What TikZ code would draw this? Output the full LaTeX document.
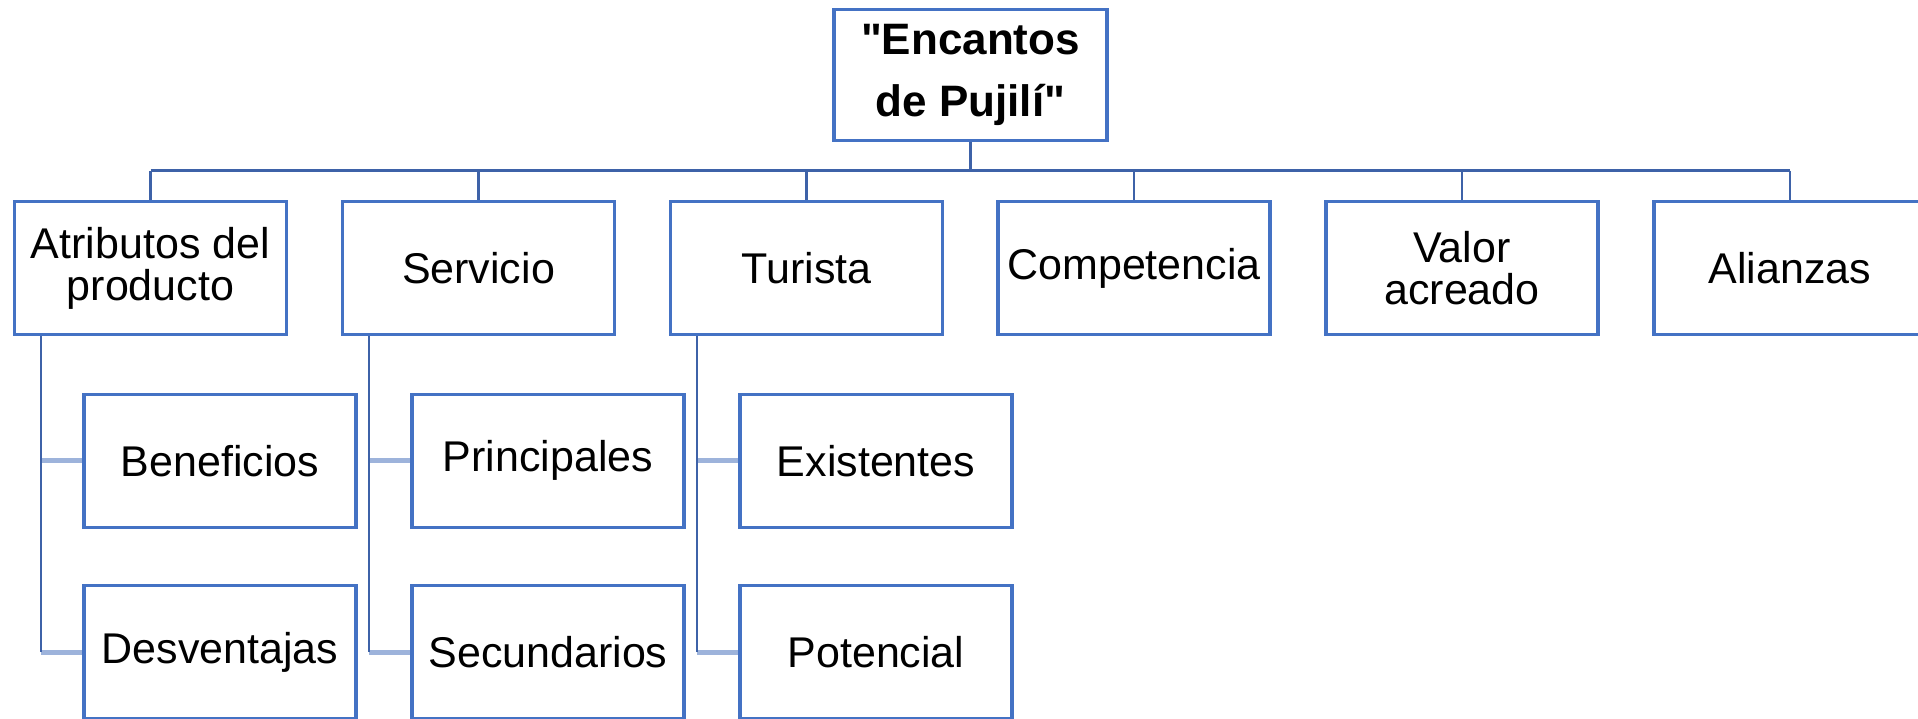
\documentclass[tikz,border=0pt]{standalone}
\usepackage{fontspec}
\setmainfont{Liberation Sans}[Ligatures=TeXOff]
\definecolor{boxc}{RGB}{68,114,196}
\definecolor{connc}{RGB}{62,98,168}
\definecolor{lightc}{RGB}{157,179,219}
\begin{document}
\begin{tikzpicture}[x=1pt,y=-1pt,
  box/.style={draw=boxc,line width=3.2pt,fill=white,inner sep=0pt,align=center,
    minimum width=272pt,minimum height=133pt,font=\fontsize{43}{42}\selectfont},
  rootbox/.style={box,minimum width=273pt,minimum height=131pt,
    font=\fontsize{44}{62}\selectfont\bfseries},
  conn/.style={draw=connc,line width=2.7pt},
  stub/.style={draw=lightc,line width=5pt}]
\useasboundingbox (0,0) rectangle (1918,719);
\coordinate (busy) at (0,170.7);
\node[rootbox] (root) at (970.5,75) {"Encantos\\de Pujilí"};
\node[box] (a) at (150.5,268) {Atributos del\\producto};
\node[box] (s) at (478.5,268) {Servicio};
\node[box] (t) at (806.5,268) {Turista};
\node[box] (c) at (1134,268) {Competencia};
\node[box] (v) at (1462,268) {Valor\\acreado};
\node[box] (l) at (1790,268) {Alianzas};
\node[box] (a1) at (220,460.7) {Beneficios};
\node[box] (a2) at (220,652) {Desventajas};
\node[box] (s1) at (548,460.7) {Principales};
\node[box] (s2) at (548,652) {Secundarios};
\node[box] (t1) at (876,460.7) {Existentes};
\node[box] (t2) at (876,652) {Potencial};
\draw[conn] (root.south) -- (root.south |- busy);
\draw[conn] (a.north |- busy) -- (l.north |- busy);
\foreach \n in {a,s,t,c,v,l}{
  \draw[conn] (\n.north |- busy) -- (\n.north);
}
\foreach \p/\q/\r in {a/a1/a2,s/s1/s2,t/t1/t2}{
  \coordinate (\p top) at ([xshift=28pt]\p.south west);
  \draw[stub] (\p top |- \q.west) -- (\q.west);
  \draw[stub] (\p top |- \r.west) -- (\r.west);
  \draw[conn] (\p top) -- (\p top |- \r.west);
}
\end{tikzpicture}
\end{document}
